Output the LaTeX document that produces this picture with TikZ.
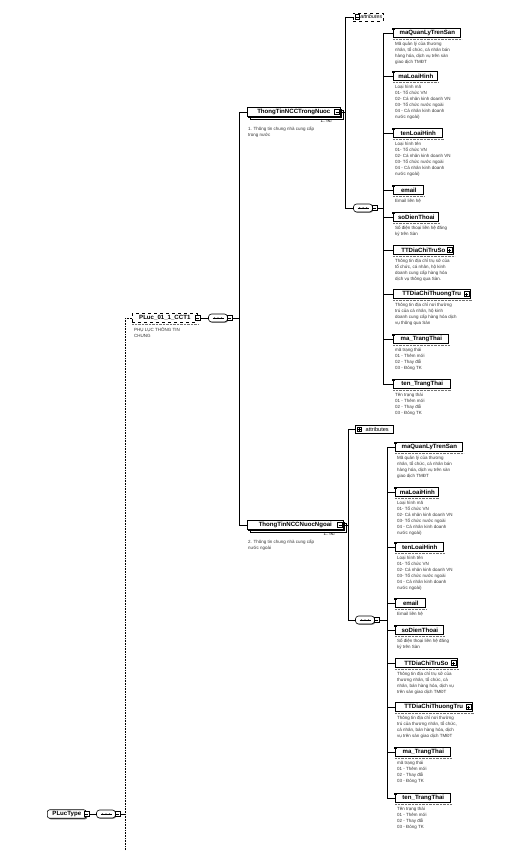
\documentclass[tikz,border=0pt]{standalone}
\usepackage{fontspec}
\setmainfont{Liberation Sans}
\usetikzlibrary{shadows,calc}
\newcommand\nmfont{\fontsize{6.1}{7}\selectfont\bfseries}
\newcommand\dsfont{\fontsize{4.5}{6}\selectfont}
\tikzset{
  base/.style={draw, fill=white, line width=0.6pt, minimum height=8.5pt, inner sep=0pt, anchor=west, font=\nmfont},
  elem/.style={base, drop shadow={shadow xshift=1.1pt, shadow yshift=-1.1pt, fill=black!60, opacity=1}},
  multi/.style={base, double copy shadow={shadow xshift=1.4pt, shadow yshift=-1.4pt}},
  optelem/.style={base, dashed},
  desc/.style={anchor=north west, inner sep=0pt, align=left, font=\dsfont, text=black!80},
  mult/.style={anchor=north east, inner sep=0pt, font=\dsfont},
  pmb/.style={draw, fill=white, line width=0.5pt, minimum size=5pt, inner sep=0pt},
  seqsym/.style={draw, fill=white, rounded corners=3pt, minimum width=19pt, minimum height=8pt, inner sep=0pt, line width=0.6pt, drop shadow={shadow xshift=0.8pt, shadow yshift=-0.8pt, fill=black!40, opacity=1}},
  attbox/.style={draw, dashed, fill=white, line width=0.5pt, minimum height=8pt, inner sep=0pt, anchor=west, font=\fontsize{5.3}{6}\selectfont\itshape},
  conn/.style={line width=0.6pt},
  optconn/.style={line width=0.6pt, densely dotted},
  sepline/.style={densely dotted, line width=0.4pt, black!55},
}
\newcommand\drawminus[1]{\draw[line width=0.5pt] ([xshift=-1.5pt]#1.center) -- ([xshift=1.5pt]#1.center);}
\newcommand\drawplus[1]{\drawminus{#1}\draw[line width=0.5pt] ([yshift=-1.5pt]#1.center) -- ([yshift=1.5pt]#1.center);}
\newcommand\simpleicon[1]{\fill ([xshift=-0.8pt,yshift=0.8pt]#1.north west) rectangle ++(2.6,2.6);}
\newcommand\seqinner[1]{\draw[line width=0.5pt] ([xshift=-5.5pt]#1.center) -- ([xshift=5.5pt]#1.center);
  \foreach \qq in {-3.5,0,3.5} {\fill ([xshift=\qq pt]#1.center) circle (0.75pt);}}
\newcommand\sepunder[1]{\draw[sepline] ([yshift=-1.8pt]#1.south west) -- ([yshift=-1.8pt,xshift=1pt]#1.south east);}
% #1 name #2 junction #3 x #4 y #5 width #6 label #7 description
\newcommand\simplechild[7]{%
  \node[elem, minimum width=#5pt] (#1) at (#3,#4) {\hspace{1pt}#6};
  \simpleicon{#1}
  \sepunder{#1}
  \node[desc] (#1d) at ([xshift=2pt,yshift=-4.5pt]#1.south west) {#7};
  \draw[conn] (#2 |- #1.west) -- (#1.west);
}
\newcommand\complexchild[7]{%
  \node[elem, minimum width=#5pt] (#1) at (#3,#4) {#6\hspace{6pt}};
  \node[pmb] (#1p) at ([xshift=-4pt]#1.east) {};
  \drawplus{#1p}
  \sepunder{#1}
  \node[desc] (#1d) at ([xshift=2pt,yshift=-4.5pt]#1.south west) {#7};
  \draw[conn] (#2 |- #1.west) -- (#1.west);
}
\begin{document}
\begin{tikzpicture}[x=1pt,y=-1pt]
\useasboundingbox (0,0) rectangle (530,851);

% ---------- PLucType ----------
\node[base, rounded corners=2.5pt, minimum width=39pt, drop shadow={shadow xshift=1.1pt, shadow yshift=-1.1pt, fill=black!60, opacity=1}] (pt) at (47,814) {PLucType};
\node[pmb] (ptm) at (pt.east) {}; \drawminus{ptm}
\node[seqsym] (sqT) at (106,814) {}; \seqinner{sqT}
\node[pmb] (sqTb) at ([xshift=2pt]sqT.east) {}; \drawminus{sqTb}
\draw[conn] (ptm.east) -- (sqT.west);
\coordinate (jT) at (125,814);
\coordinate (bot) at (125,851);
\draw[conn] (sqTb.east) -- (jT);

% ---------- PLuc_01_1_CCT1 ----------
\node[optelem, minimum width=65pt] (pl) at (132,318) {PLuc\_01\_1\_CCT1};
\node[pmb] (plm) at (pl.east) {}; \drawminus{plm}
\sepunder{pl}
\node[desc] (pld) at ([xshift=2pt,yshift=-4.5pt]pl.south west) {PHỤ LỤC THÔNG TIN\\CHUNG};
\draw[optconn] (jT |- pl.west) -- (bot);
\draw[optconn] (jT |- pl.west) -- (pl.west);
\node[seqsym] (sqP) at (218,318) {}; \seqinner{sqP}
\node[pmb] (sqPb) at ([xshift=2pt]sqP.east) {}; \drawminus{sqPb}
\draw[conn] (plm.east) -- (sqP.west);
\coordinate (jP) at (239,318);
\draw[conn] (sqPb.east) -- (jP);

% ---------- ThongTinNCCTrongNuoc ----------
\node[multi, minimum width=93pt] (tt1) at (247,112) {ThongTinNCCTrongNuoc\hspace{5pt}};
\node[pmb] (tt1m) at ([xshift=-3.5pt]tt1.east) {}; \drawminus{tt1m}
\node[mult] (tt1n) at ([xshift=-8pt,yshift=-3pt]tt1.south east) {1..$\infty$};
\node[desc] (tt1d) at (248,127) {1. Thông tin chung nhà cung cấp\\trong nước};

% ---------- ThongTinNCCNuocNgoai ----------
\node[multi, minimum width=96pt] (tt2) at (247,525) {ThongTinNCCNuocNgoai\hspace{5pt}};
\node[pmb] (tt2m) at ([xshift=-3.5pt]tt2.east) {}; \drawminus{tt2m}
\node[mult] (tt2n) at ([xshift=-8pt,yshift=-3pt]tt2.south east) {1..$\infty$};
\node[desc] (tt2d) at (248,540) {2. Thông tin chung nhà cung cấp\\nước ngoài};

\draw[conn] (jP |- tt1.west) -- (jP |- tt2.west);
\draw[conn] (jP |- tt1.west) -- (tt1.west);
\draw[conn] (jP |- tt2.west) -- (tt2.west);

% ---------- structure 1 ----------
\coordinate (k1) at (345,112);
\node[attbox, minimum width=30pt] (at1) at (353,17) {\hspace{6pt}attributes};
\node[pmb, minimum size=4.5pt] (at1m) at ([xshift=4pt]at1.west) {}; \drawminus{at1m}
\node[seqsym] (q1) at (363,208) {}; \seqinner{q1}
\node[pmb] (q1b) at ([xshift=2pt]q1.east) {}; \drawminus{q1b}
\draw[conn] (tt1m.east) -- (k1);
\draw[conn] (k1 |- at1.west) -- (k1 |- q1.west);
\draw[conn] (k1 |- at1.west) -- (at1.west);
\draw[conn] (k1 |- q1.west) -- (q1.west);
\coordinate (j1) at (383,208);
\draw[conn] (q1b.east) -- (j1);

\simplechild{a1}{j1}{393}{33}{67}{maQuanLyTrenSan}{Mã quản lý của thương\\nhân, tổ chức, cá nhân bán\\hàng hóa, dịch vụ trên sàn\\giao dịch TMĐT}
\simplechild{a2}{j1}{393}{76}{44}{maLoaiHinh}{Loại hình mã\\01- Tổ chức VN\\02- Cá nhân kinh doanh VN\\03- Tổ chức nước ngoài\\04 - Cá nhân kinh doanh\\nước ngoài)}
\simplechild{a3}{j1}{393}{133}{49}{tenLoaiHinh}{Loại hình tên\\01- Tổ chức VN\\02- Cá nhân kinh doanh VN\\03- Tổ chức nước ngoài\\04 - Cá nhân kinh doanh\\nước ngoài)}
\simplechild{a4}{j1}{393}{190}{30}{email}{Email liên hệ}
\simplechild{a5}{j1}{393}{217}{45}{soDienThoai}{Số điện thoại liên hệ đăng\\ký trên Sàn}
\complexchild{a6}{j1}{393}{250}{60}{TTDiaChiTruSo}{Thông tin địa chỉ trụ sở của\\tổ chức, cá nhân, hộ kinh\\doanh cung cấp hàng hóa\\dịch vụ thông qua Sàn.}
\complexchild{a7}{j1}{393}{294}{77}{TTDiaChiThuongTru}{Thông tin địa chỉ nơi thường\\trú của cá nhân, hộ kinh\\doanh cung cấp hàng hóa dịch\\vụ thông qua Sàn}
\simplechild{a8}{j1}{393}{339}{55}{ma\_TrangThai}{mã trạng thái\\01 - Thêm mới\\02 - Thay đổi\\03 - Đóng TK}
\simplechild{a9}{j1}{393}{384}{57}{ten\_TrangThai}{Tên trạng thái\\01 - Thêm mới\\02 - Thay đổi\\03 - Đóng TK}
\draw[conn] (j1 |- a1.west) -- (j1 |- a9.west);

% ---------- structure 2 ----------
\coordinate (k2) at (348,525);
\node[attbox, solid, minimum width=38pt, font=\fontsize{5.6}{6}\selectfont] (at2) at (355,429) {\hspace{6pt}attributes};
\node[pmb, minimum size=4.5pt] (at2m) at ([xshift=4pt]at2.west) {}; \drawplus{at2m}
\node[seqsym] (q2) at (365,620) {}; \seqinner{q2}
\node[pmb] (q2b) at ([xshift=2pt]q2.east) {}; \drawminus{q2b}
\draw[conn] (tt2m.east) -- (k2);
\draw[conn] (k2 |- at2.west) -- (k2 |- q2.west);
\draw[conn] (k2 |- at2.west) -- (at2.west);
\draw[conn] (k2 |- q2.west) -- (q2.west);
\coordinate (j2) at (387,620);
\draw[conn] (q2b.east) -- (j2);

\simplechild{b1}{j2}{395}{447}{67}{maQuanLyTrenSan}{Mã quản lý của thương\\nhân, tổ chức, cá nhân bán\\hàng hóa, dịch vụ trên sàn\\giao dịch TMĐT}
\simplechild{b2}{j2}{395}{492}{43}{maLoaiHinh}{Loại hình mã\\01- Tổ chức VN\\02- Cá nhân kinh doanh VN\\03- Tổ chức nước ngoài\\04 - Cá nhân kinh doanh\\nước ngoài)}
\simplechild{b3}{j2}{395}{547}{48}{tenLoaiHinh}{Loại hình tên\\01- Tổ chức VN\\02- Cá nhân kinh doanh VN\\03- Tổ chức nước ngoài\\04 - Cá nhân kinh doanh\\nước ngoài)}
\simplechild{b4}{j2}{395}{603}{30}{email}{Email liên hệ}
\simplechild{b5}{j2}{395}{630}{48}{soDienThoai}{Số điện thoại liên hệ đăng\\ký trên Sàn}
\complexchild{b6}{j2}{395}{663}{62}{TTDiaChiTruSo}{Thông tin địa chỉ trụ sở của\\thương nhân, tổ chức, cá\\nhân, bán hàng hóa, dịch vụ\\trên sàn giao dịch TMĐT}
\complexchild{b7}{j2}{395}{707}{77}{TTDiaChiThuongTru}{Thông tin địa chỉ nơi thường\\trú của thương nhân, tổ chức,\\cá nhân, bán hàng hóa, dịch\\vụ trên sàn giao dịch TMĐT}
\simplechild{b8}{j2}{395}{752}{55}{ma\_TrangThai}{mã trạng thái\\01 - Thêm mới\\02 - Thay đổi\\03 - Đóng TK}
\simplechild{b9}{j2}{395}{798}{55}{ten\_TrangThai}{Tên trạng thái\\01 - Thêm mới\\02 - Thay đổi\\03 - Đóng TK}
\draw[conn] (j2 |- b1.west) -- (j2 |- b9.west);
\end{tikzpicture}
\end{document}
